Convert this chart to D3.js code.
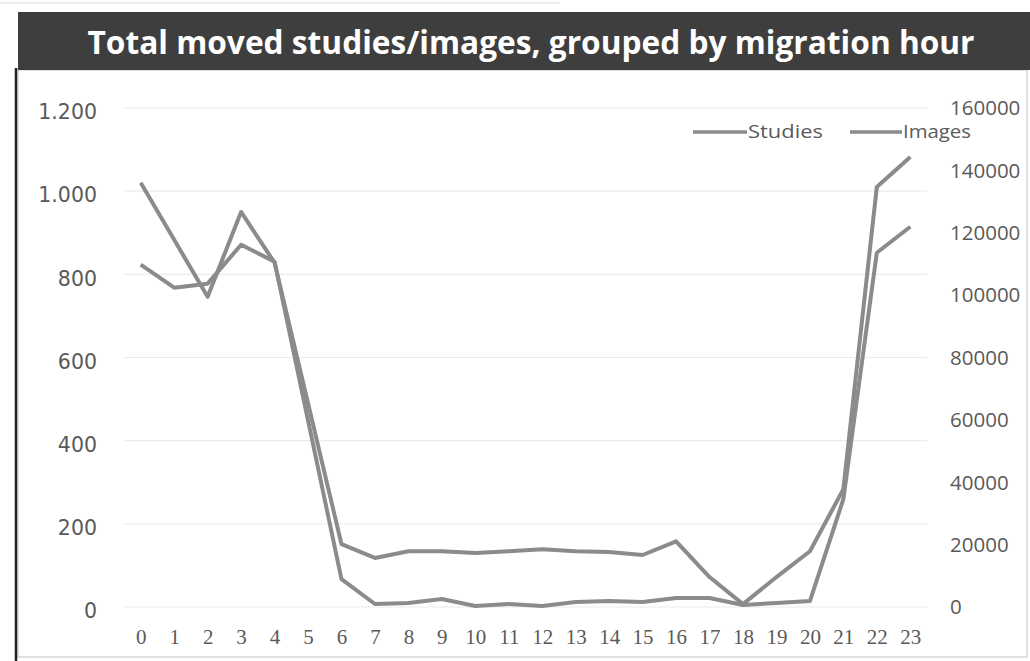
<!DOCTYPE html>
<html>
<head>
<meta charset="utf-8">
<script src="https://cdn.jsdelivr.net/npm/d3@7"></script>
<style>
  html, body { margin: 0; padding: 0; background: #fff; }
  svg { display: block; }
</style>
</head>
<body>
<svg id="chart" width="1030" height="661"></svg>
<script>
// ---- data ----
const hours = ["0","1","2","3","4","5","6","7","8","9","10","11","12","13","14","15","16","17","18","19","20","21","22","23"];
const studies = [1020, 883, 746, 950, 828, 490, 151, 118, 134, 134, 130, 134, 139, 134, 132, 125, 158, 72, 7, 72, 134, 283, 1010, 1082];
const images = [109760, 102400, 103680, 116160, 110720, 59840, 8960, 960, 1280, 2560, 320, 960, 320, 1600, 1920, 1600, 2880, 2880, 640, 1280, 1920, 34560, 113600, 121920];
const leftTicks = [0, 200, 400, 600, 800, 1000, 1200];
const rightTicks = [0, 20000, 40000, 60000, 80000, 100000, 120000, 140000, 160000];
const seriesNames = ["Studies", "Images"];
const titleText = "Total moved studies/images, grouped by migration hour";

// ---- layout ----
const svg = d3.select("#chart");
const plot = { left: 124, right: 927, top: 108, bottom: 607 };
const lineColor = "#8b8b8b";
const labelColor = "#5a5a5a";

// outer frame
svg.append("rect").attr("x", 18).attr("y", 70).attr("width", 1009).attr("height", 587)
  .attr("fill", "#fff").attr("stroke", "#d6d6d6").attr("stroke-width", 1.5);
svg.append("line").attr("x1", 16).attr("x2", 16).attr("y1", 68).attr("y2", 661)
  .attr("stroke", "#222").attr("stroke-width", 2.5);
// faint spreadsheet lines at top
svg.append("line").attr("x1", 0).attr("x2", 560).attr("y1", 3).attr("y2", 3)
  .attr("stroke", "#ddd").attr("stroke-width", 1);

// title bar
svg.append("rect").attr("x", 18).attr("y", 12).attr("width", 1012).attr("height", 58)
  .attr("fill", "#3e3e3e");
svg.append("text").attr("x", 531).attr("y", 54).attr("text-anchor", "middle")
  .attr("font-family", "'Open Sans', 'Noto Sans', sans-serif").attr("font-weight", "bold")
  .attr("font-size", 32).attr("fill", "#fff")
  .attr("textLength", 887).attr("lengthAdjust", "spacingAndGlyphs")
  .text(titleText);

// scales
const x = d3.scalePoint().domain(hours).range([plot.left, plot.right]).padding(0.5);
const yL = d3.scaleLinear().domain([0, 1200]).range([plot.bottom, plot.top]);
const yR = d3.scaleLinear().domain([0, 160000]).range([plot.bottom, plot.top]);

// gridlines
svg.append("g").selectAll("line").data(leftTicks).join("line")
  .attr("x1", plot.left).attr("x2", plot.right)
  .attr("y1", d => yL(d)).attr("y2", d => yL(d))
  .attr("stroke", "#ececec").attr("stroke-width", 1.2);

// left axis
const axL = svg.append("g").attr("transform", `translate(${97},0)`)
  .call(d3.axisLeft(yL).tickValues(leftTicks).tickSize(0).tickPadding(0)
    .tickFormat(d => d3.format(",")(d).replace(/,/g, ".")));
axL.select(".domain").remove();
axL.selectAll("text").attr("font-family", "'DejaVu Sans', sans-serif").attr("font-size", 20.5)
  .attr("fill", labelColor).attr("dy", "0.52em");

// right axis
const axR = svg.append("g").attr("transform", `translate(${950},0)`)
  .call(d3.axisRight(yR).tickValues(rightTicks).tickSize(0).tickPadding(0)
    .tickFormat(d3.format("d")));
axR.select(".domain").remove();
axR.selectAll("text").attr("font-family", "'Open Sans', sans-serif").attr("font-size", 20.5)
  .attr("fill", labelColor).attr("dy", "0.33em");

// bottom axis
const axB = svg.append("g").attr("transform", `translate(0,${629})`)
  .call(d3.axisBottom(x).tickSize(0).tickPadding(0));
axB.select(".domain").remove();
axB.selectAll("text").attr("font-family", "'Liberation Serif', serif").attr("font-size", 21)
  .attr("fill", labelColor);

// lines
const lineL = d3.line().x((d, i) => x(hours[i])).y(d => yL(d));
const lineR = d3.line().x((d, i) => x(hours[i])).y(d => yR(d));
svg.append("path").datum(images).attr("d", lineR).attr("fill", "none")
  .attr("stroke", lineColor).attr("stroke-width", 4).attr("stroke-linejoin", "round");
svg.append("path").datum(studies).attr("d", lineL).attr("fill", "none")
  .attr("stroke", lineColor).attr("stroke-width", 4).attr("stroke-linejoin", "round");

// legend
const legend = svg.append("g");
const legendItems = [
  { name: seriesNames[0], x1: 693, x2: 747, tx: 748, w: 75 },
  { name: seriesNames[1], x1: 850, x2: 902, tx: 903, w: 68 }
];
legendItems.forEach(it => {
  legend.append("line").attr("x1", it.x1).attr("x2", it.x2).attr("y1", 132).attr("y2", 132)
    .attr("stroke", lineColor).attr("stroke-width", 3.5);
  legend.append("text").attr("x", it.tx).attr("y", 138)
    .attr("font-family", "'Open Sans', sans-serif").attr("font-size", 18.5)
    .attr("fill", labelColor)
    .attr("textLength", it.w).attr("lengthAdjust", "spacingAndGlyphs")
    .text(it.name);
});
</script>
</body>
</html>
